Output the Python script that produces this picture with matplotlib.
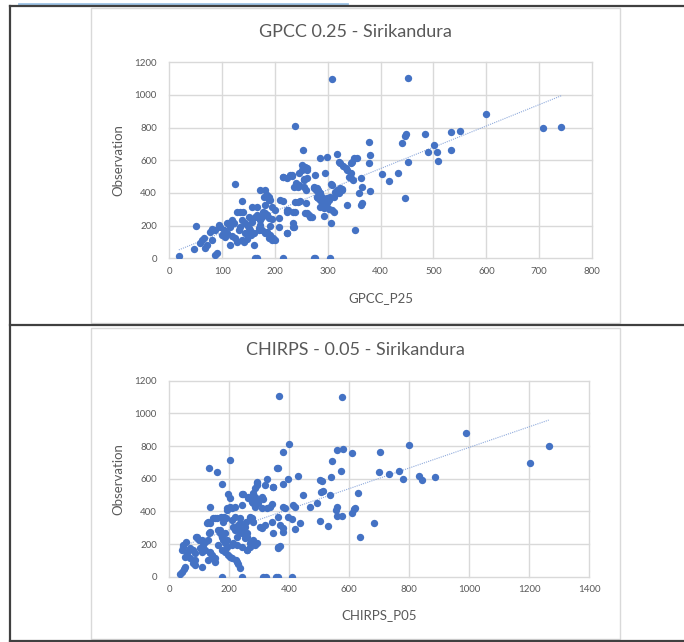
import matplotlib.pyplot as plt
import numpy as np
from matplotlib.patches import Rectangle

plt.rcParams['font.family'] = ['Lato', 'DejaVu Sans']

gpcc_x = [18, 46, 51, 58, 61, 65, 68, 71, 77, 80, 87, 90, 94, 96, 100, 103, 106, 109,
          112, 115, 115, 118, 122, 125, 125, 128, 131, 134, 134, 137, 137, 140, 144, 147,
          150, 153, 148, 155, 160, 160, 162, 166, 163, 166, 169, 172, 166, 169, 172, 175,
          172, 181, 178, 181, 185, 191, 197, 200, 185, 188, 191, 194, 200, 195, 190, 207,
          207, 210, 216, 216, 215, 222, 222, 225, 222, 229, 232, 235, 236, 236, 239, 243,
          237, 238, 244, 247, 238, 245, 251, 253, 251, 257, 260, 254, 258, 254, 261, 258,
          261, 264, 266, 274, 276, 276, 273, 280, 282, 280, 282, 286, 286, 289, 292, 296,
          299, 292, 294, 299, 305, 307, 306, 306, 302, 308, 311, 311, 315, 318, 318, 321,
          324, 329, 324, 327, 334, 337, 337, 340, 343, 343, 346, 349, 356, 344, 348, 351,
          359, 365, 365, 362, 362, 378, 380, 378, 380, 402, 416, 433, 440, 446, 448, 446,
          451, 451, 483, 490, 501, 506, 509, 534, 534, 550, 599, 708, 742,
          144, 137, 141, 169, 175, 179, 185, 188, 182, 185, 188, 182, 188, 194, 118, 109,
          150, 156, 128, 87, 80, 156, 273, 278, 283, 286, 280, 289, 292, 295, 299, 286,
          292, 302, 305, 308, 314, 321, 327, 216, 232, 245, 254, 261, 223, 235, 257, 270,
          234, 223]
gpcc_obs = [16, 55, 198, 96, 112, 122, 61, 82, 163, 178, 20, 31, 204, 190, 143, 173, 133, 153,
            214, 82, 194, 137, 214, 453, 122, 102, 173, 194, 286, 235, 353, 286, 214, 204,
            184, 173, 120, 145, 153, 82, 0, 0, 255, 265, 245, 235, 316, 173, 204, 255,
            418, 418, 286, 327, 163, 143, 122, 112, 265, 378, 357, 316, 296, 240, 200, 245,
            190, 357, 353, 0, 500, 490, 286, 296, 157, 510, 504, 218, 194, 439, 459, 435,
            812, 347, 347, 353, 286, 520, 541, 663, 571, 561, 551, 439, 418, 484, 490, 341,
            276, 265, 255, 0, 0, 510, 439, 429, 418, 378, 367, 357, 612, 337, 316, 351,
            367, 259, 520, 618, 0, 1100, 455, 218, 300, 296, 286, 378, 398, 418, 639, 592,
            582, 565, 429, 418, 551, 541, 327, 500, 520, 582, 592, 612, 612, 490, 480, 173,
            398, 439, 337, 327, 490, 714, 633, 582, 414, 514, 475, 520, 708, 749, 761, 367,
            1104, 588, 759, 649, 694, 649, 596, 776, 663, 782, 882, 798, 804,
            153, 112, 102, 184, 173, 378, 388, 357, 276, 265, 245, 153, 122, 112, 235, 214,
            255, 224, 286, 173, 112, 316, 428, 418, 408, 398, 377, 377, 357, 347, 336, 316,
            306, 357, 377, 449, 408, 398, 422, 500, 510, 449, 479, 540, 296, 285, 275, 255,
            189, 157]

# CHIRPS 0.05 vs station observations
chirps_x = [36, 42, 49, 108, 80, 86, 41, 47, 56, 89, 100, 52, 60, 69, 80, 102, 108, 113,
            119, 133, 124, 136, 147, 136, 141, 147, 152, 136, 160, 172, 183, 189, 163, 169,
            174, 180, 185, 191, 174, 185, 196, 202, 208, 191, 202, 208, 197, 202, 219, 224,
            230, 236, 241, 247, 252, 213, 224, 230, 236, 222, 241, 244, 263, 269, 274, 258,
            269, 280, 286, 219, 236, 256, 258, 302, 308, 174, 242, 311, 322, 356, 363, 408,
            133, 158, 174, 202, 367, 576, 989, 800, 400, 380, 360, 558, 580, 608, 702, 543,
            572, 699, 731, 767, 780, 833, 841, 887, 629, 636, 682, 539, 509, 502, 513, 504,
            536, 447, 430, 397, 380, 347, 324, 291, 291, 286, 280, 286, 291, 297, 275, 270,
            308, 313, 324, 336, 341, 363, 380, 386, 413, 419, 436, 419, 397, 408, 380, 378,
            347, 363, 369, 469, 493, 502, 530, 555, 560, 558, 575, 608, 614, 620, 1203, 1265,
            241, 263, 280, 291, 308, 319, 347, 286, 308, 191, 219, 130, 152, 180, 208, 236,
            269, 280, 136, 130, 169, 186, 175, 191, 213, 230, 247, 258, 252, 225, 241, 258,
            269, 163, 208, 47, 64, 86, 119, 136, 152, 130, 91, 108, 69, 86, 52, 225,
            291, 319, 341, 363, 369, 363]
chirps_obs = [16, 31, 45, 57, 86, 102, 163, 194, 214, 245, 224, 122, 139, 173, 163, 173, 153, 194,
              214, 269, 327, 327, 357, 153, 133, 112, 92, 429, 357, 367, 367, 357, 286, 265,
              245, 224, 204, 184, 163, 153, 133, 122, 112, 408, 429, 418, 504, 484, 286, 306,
              316, 276, 265, 286, 306, 204, 194, 76, 56, 102, 439, 504, 490, 367, 357, 163,
              204, 224, 194, 367, 327, 337, 245, 306, 296, 0, 0, 0, 0, 0, 0, 0,
              663, 643, 565, 716, 1106, 1098, 882, 806, 812, 761, 663, 775, 782, 755, 761, 710,
              649, 643, 631, 649, 596, 616, 592, 610, 510, 245, 327, 610, 586, 592, 524, 520,
              500, 500, 616, 598, 567, 551, 596, 582, 561, 541, 510, 490, 469, 449, 459, 480,
              484, 473, 418, 429, 445, 663, 429, 418, 439, 425, 331, 290, 367, 351, 296, 276,
              265, 173, 188, 425, 453, 341, 310, 408, 425, 373, 371, 392, 416, 420, 694, 800,
              506, 480, 449, 576, 490, 561, 551, 429, 419, 419, 429, 337, 357, 337, 347, 357,
              357, 337, 276, 225, 286, 265, 245, 225, 306, 296, 286, 265, 235, 245, 184, 163,
              184, 194, 194, 184, 163, 143, 163, 143, 112, 102, 245, 225, 112, 72, 61, 92,
              204, 316, 337, 368, 316, 184]

titles = ["GPCC 0.25 - Sirikandura", "CHIRPS - 0.05 - Sirikandura"]
xlabels = ["GPCC_P25", "CHIRPS_P05"]
xmax = [800, 1400]
xstep = [100, 200]

W, H = 684, 642
fig = plt.figure(figsize=(W / 100, H / 100), dpi=100)

# background frame in pixel coordinates
bg = fig.add_axes([0, 0, 1, 1], zorder=-1)
bg.set_xlim(0, W)
bg.set_ylim(H, 0)
bg.axis("off")
bg.plot([19, 347], [4, 4], color="#9dc3e6", lw=2)
bg.plot([10, W], [6, 6], color="#404040", lw=1.6)
bg.plot([10, W], [325, 325], color="#404040", lw=1.6)
bg.plot([10, W], [640.5, 640.5], color="#404040", lw=1.6)
bg.plot([10, 10], [6, 641], color="#404040", lw=1.6)
bg.add_patch(Rectangle((91, 8), 529, 315, fill=False, ec="#d9d9d9", lw=1))
bg.add_patch(Rectangle((91, 328), 529, 311, fill=False, ec="#d9d9d9", lw=1))
bg.text(355, 32, titles[0], ha="center", va="center", fontsize=13, color="#595959")
bg.text(355, 350, titles[1], ha="center", va="center", fontsize=13, color="#595959")

datasets = [(gpcc_x, gpcc_obs), (chirps_x, chirps_obs)]
rects = [[169.3, 62.3, 592.0, 258.3], [169.3, 380.7, 589.3, 576.7]]
xlab_y = [-0.2026, -0.195]

for i, (xs, ys) in enumerate(datasets):
    l, t, r, b = rects[i]
    ax = fig.add_axes([l / W, 1 - b / H, (r - l) / W, (b - t) / H])
    xs = np.array(xs)
    ys = np.array(ys)
    ax.scatter(xs, ys, s=28, color="#4472c4", zorder=3, linewidths=0)
    k, c = np.polyfit(xs, ys, 1)
    xx = np.array([xs.min(), xs.max()])
    ax.plot(xx, k * xx + c, color="#8faadc", lw=0.8, ls=(0, (1, 1)), zorder=2)

    ax.set_xlim(0, xmax[i])
    ax.set_ylim(0, 1200)
    ax.set_xticks(np.arange(0, xmax[i] + 1, xstep[i]))
    ax.set_yticks(np.arange(0, 1201, 200))
    ax.grid(True, color="#d9d9d9", lw=1)
    ax.set_axisbelow(True)
    for s in ax.spines.values():
        s.set_visible(False)
    ax.tick_params(length=0, labelsize=7, colors="#595959", pad=6)
    ax.tick_params(axis="y", pad=9)
    ax.set_xlabel(xlabels[i], fontsize=9.5, color="#595959", va="center")
    ax.set_ylabel("Observation", fontsize=9.5, color="#595959", va="center")
    ax.xaxis.set_label_coords(0.5, xlab_y[i])
    ax.yaxis.set_label_coords(-0.121, 0.5)
    for gl in ax.get_xgridlines() + ax.get_ygridlines():
        gl.set_clip_on(False)

fig.savefig("out.png", dpi=100)
